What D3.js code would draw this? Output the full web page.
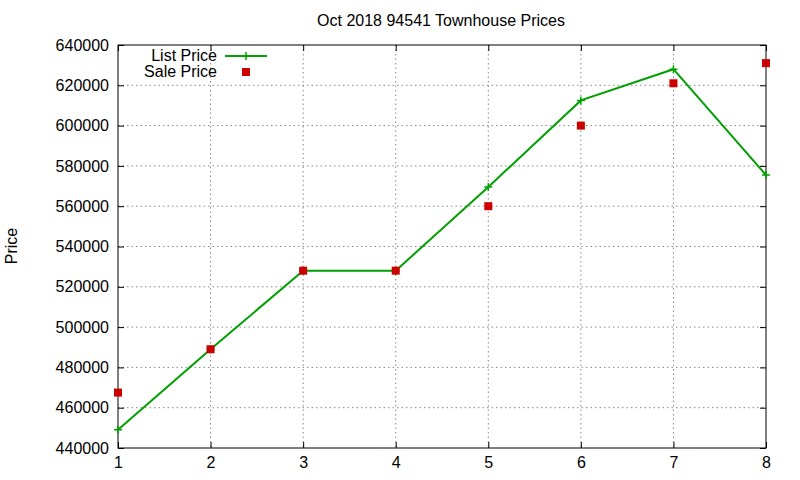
<!DOCTYPE html>
<html><head><meta charset="utf-8">
<script src="https://cdn.jsdelivr.net/npm/d3@7"></script>
<style>body{margin:0;background:#fff}text{font-family:"Liberation Sans",Arial,sans-serif;font-size:16px}</style>
</head><body><svg id="c" width="800" height="480"></svg>
<script>
const months = [1,2,3,4,5,6,7,8];
const listPrice = [449000,489000,528000,528000,569500,612500,628000,575500];
const salePrice = [467500,489000,528000,528000,560000,600000,621000,631000];
const yTicks = [440000,460000,480000,500000,520000,540000,560000,580000,600000,620000,640000];

const svg = d3.select("#c");
const L=118,R=766,T=45,B=448;
const x = d3.scaleLinear().domain([1,8]).range([L,R]);
const y = d3.scaleLinear().domain([440000,640000]).range([B,T]);

const g = svg.append("g");
g.selectAll(".gx").data(months.slice(1,-1)).join("line")
 .attr("x1",d=>x(d)).attr("x2",d=>x(d)).attr("y1",T).attr("y2",B)
 .attr("stroke","#888").attr("stroke-dasharray","1.5,3").attr("stroke-width",1);
g.selectAll(".gy").data(yTicks.slice(1,-1)).join("line")
 .attr("y1",d=>y(d)).attr("y2",d=>y(d)).attr("x1",L).attr("x2",R)
 .attr("stroke","#888").attr("stroke-dasharray","1.5,3").attr("stroke-width",1);

svg.append("g").attr("transform",`translate(0,${B})`)
 .call(d3.axisBottom(x).tickValues(months).tickFormat(d3.format("d")).tickSize(-6).tickPadding(9));
svg.append("g").attr("transform",`translate(${L},0)`)
 .call(d3.axisLeft(y).tickValues(yTicks).tickFormat(d3.format("d")).tickSize(-6).tickPadding(9));
svg.append("g").attr("transform",`translate(0,${T})`)
 .call(d3.axisTop(x).tickValues(months).tickFormat("").tickSize(-6));
svg.append("g").attr("transform",`translate(${R},0)`)
 .call(d3.axisRight(y).tickValues(yTicks).tickFormat("").tickSize(-6));
svg.selectAll(".domain").remove();
svg.selectAll(".tick line").attr("stroke","#000");
svg.selectAll(".tick text").attr("fill","#000").style("font-size","16px").style("font-family","Liberation Sans, Arial, sans-serif");
svg.append("rect").attr("x",L).attr("y",T).attr("width",R-L).attr("height",B-T)
 .attr("fill","none").attr("stroke","#000");

const green="#00a000", red="#cc0000";
svg.append("path").datum(months.map((m,i)=>[m,listPrice[i]]))
 .attr("d",d3.line().x(d=>x(d[0])).y(d=>y(d[1])))
 .attr("fill","none").attr("stroke",green).attr("stroke-width",2);
const plus=(px,py)=>`M${px-4},${py}H${px+4}M${px},${py-4}V${py+4}`;
svg.append("path").attr("d",months.map((m,i)=>plus(x(m),y(listPrice[i]))).join(""))
 .attr("stroke",green).attr("stroke-width",1.5);
svg.selectAll(".sp").data(months).join("rect")
 .attr("x",(d,i)=>x(d)-4).attr("y",(d,i)=>y(salePrice[i])-4)
 .attr("width",8).attr("height",8).attr("fill",red);

svg.append("text").attr("x",217).attr("y",61).attr("text-anchor","end").text("List Price");
svg.append("line").attr("x1",225).attr("x2",267).attr("y1",56).attr("y2",56).attr("stroke",green).attr("stroke-width",2);
svg.append("path").attr("d",plus(246,56)).attr("stroke",green).attr("stroke-width",1.5);
svg.append("text").attr("x",217).attr("y",77).attr("text-anchor","end").text("Sale Price");
svg.append("rect").attr("x",242).attr("y",68).attr("width",8).attr("height",8).attr("fill",red);

svg.append("text").attr("x",441).attr("y",26).attr("text-anchor","middle").text("Oct 2018 94541 Townhouse Prices");
svg.append("text").attr("transform","translate(17,246) rotate(-90)").attr("text-anchor","middle").text("Price");
</script></body></html>
